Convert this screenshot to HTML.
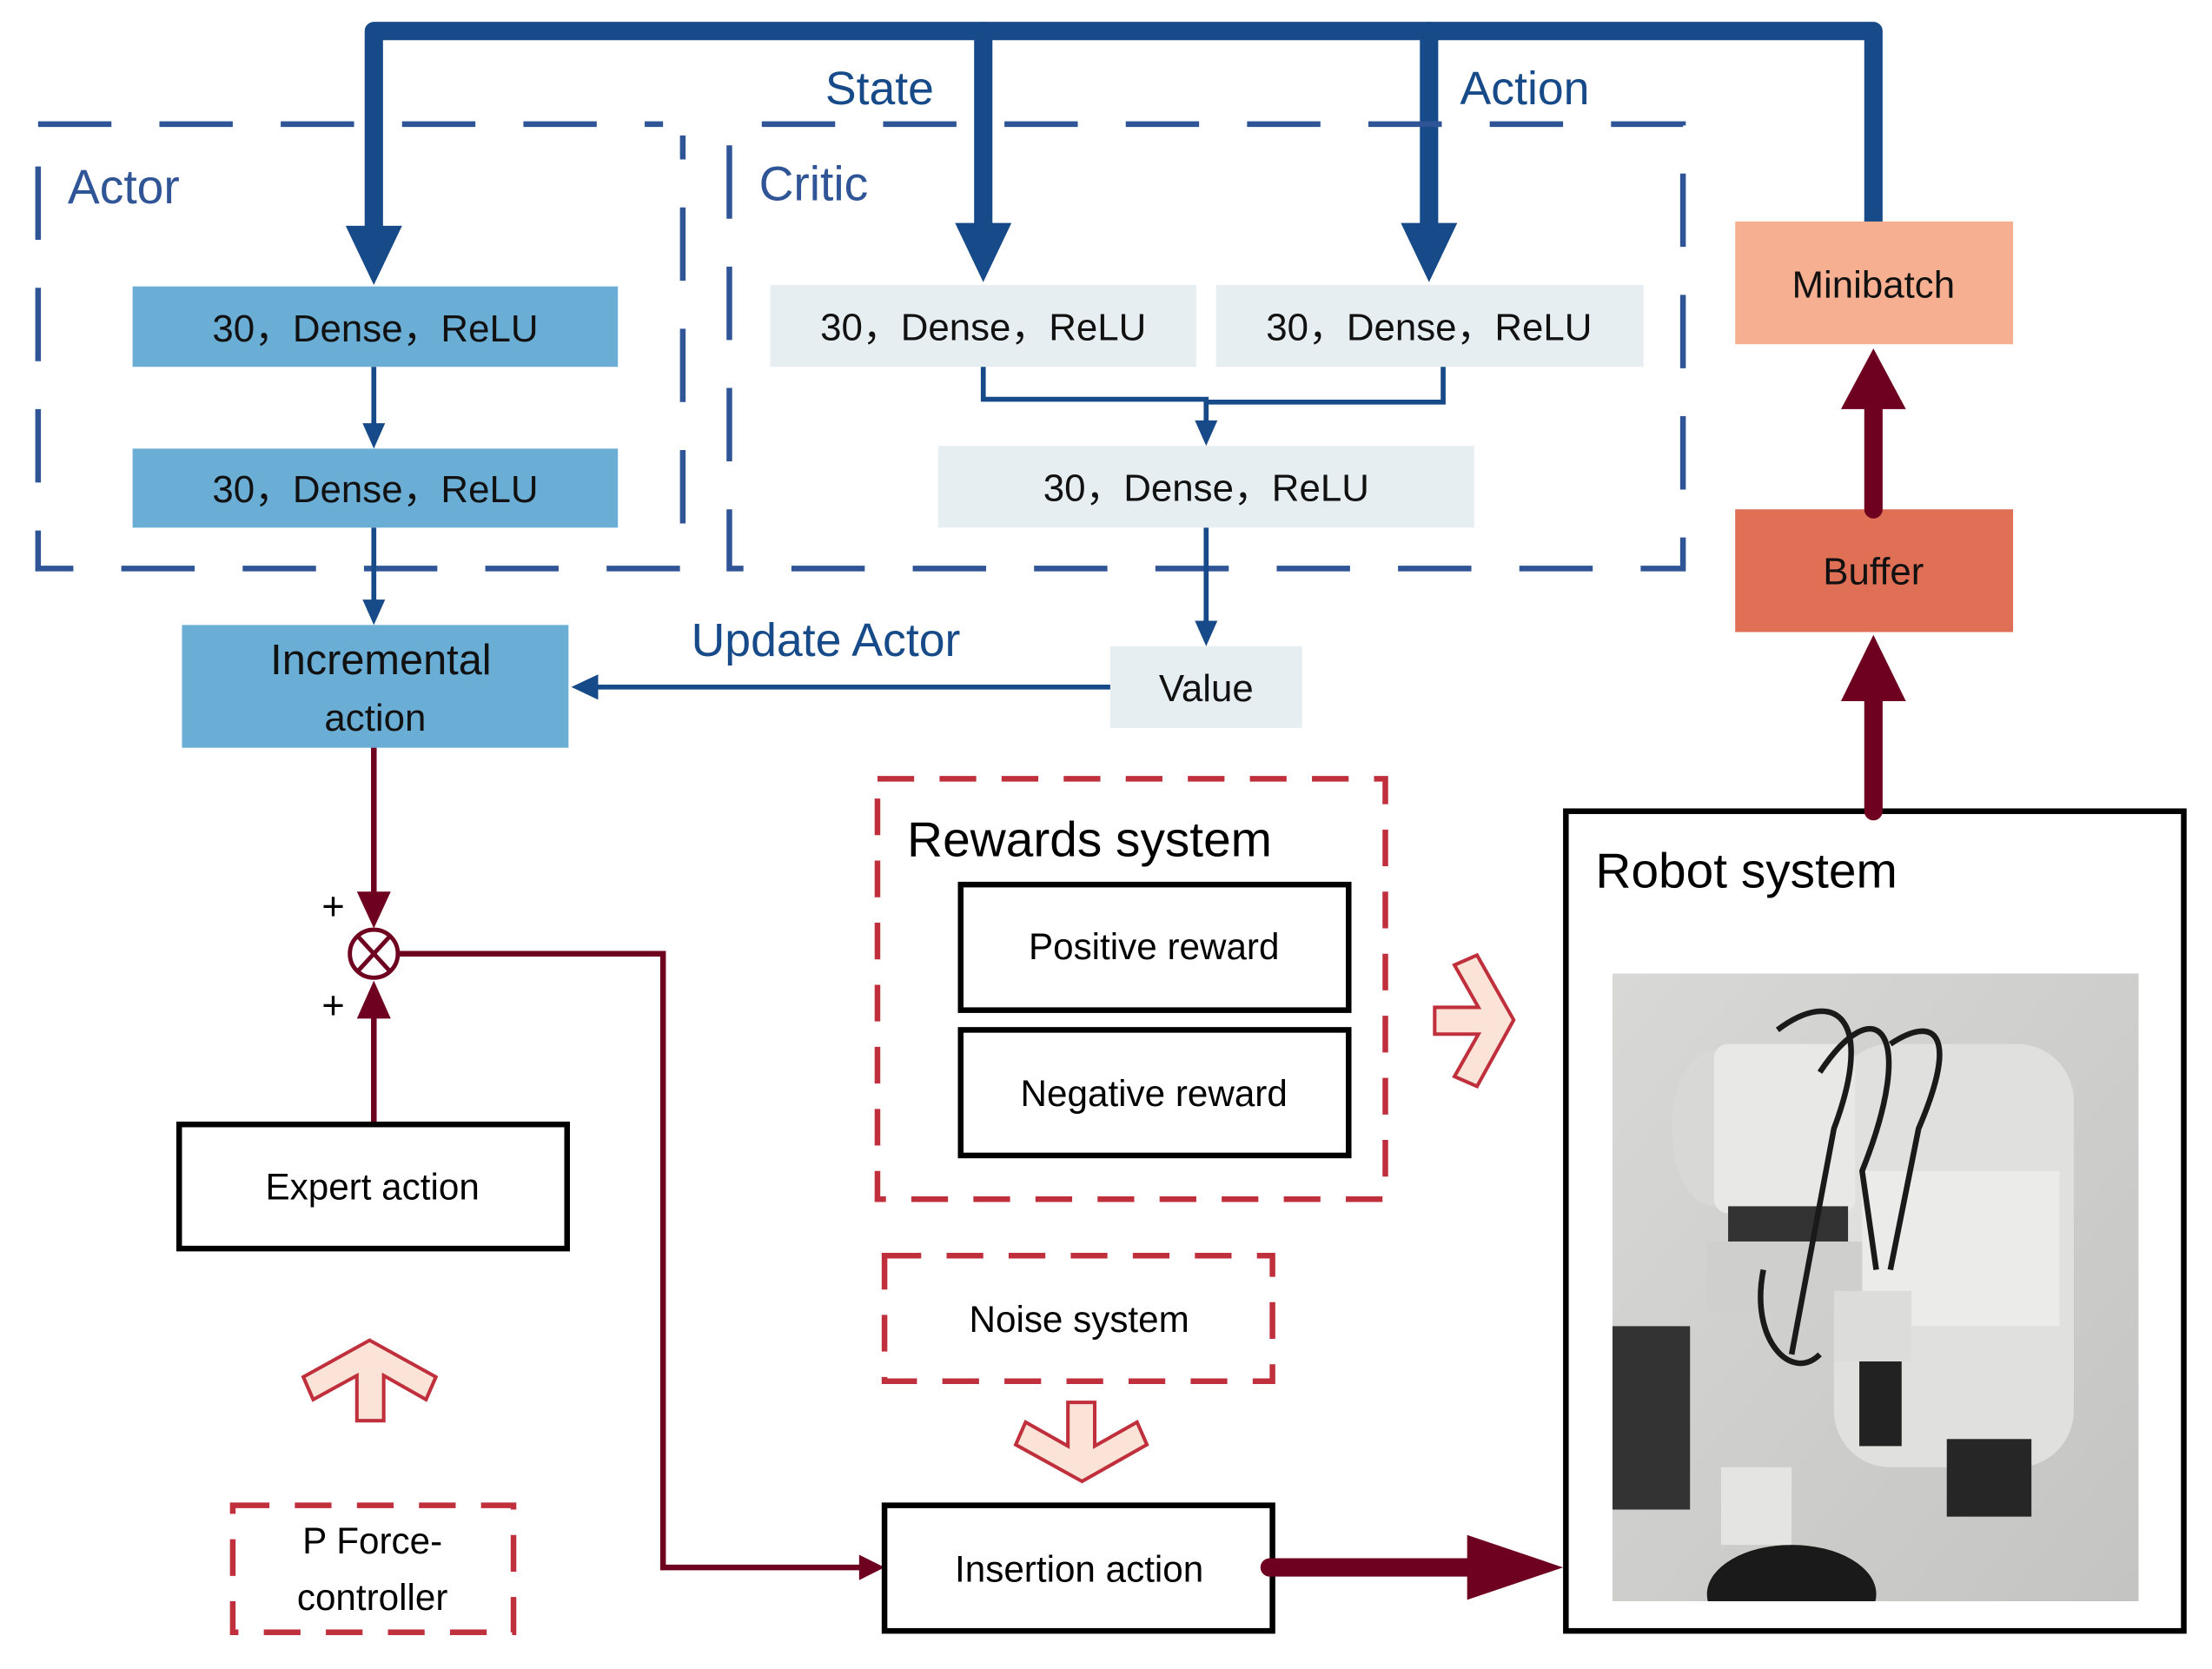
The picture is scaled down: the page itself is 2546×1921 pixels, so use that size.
<!DOCTYPE html>
<html><head><meta charset="utf-8"><style>
html,body{margin:0;padding:0;background:#fff;}
svg{display:block;}
text{font-family:"Liberation Sans",sans-serif;}
</style></head><body>
<svg width="2546" height="1921" viewBox="0 0 1568 1183" preserveAspectRatio="none" xmlns="http://www.w3.org/2000/svg">
<defs>
<linearGradient id="bg" x1="0" y1="0" x2="1" y2="1"><stop offset="0" stop-color="#d8d8d6"/><stop offset="1" stop-color="#c4c4c2"/></linearGradient>
<clipPath id="ph"><rect x="1143" y="690" width="373" height="445"/></clipPath>
</defs>
<g stroke="#174a88" stroke-width="13" fill="none" stroke-linecap="round" stroke-linejoin="round">
<path d="M265 165 V22 H1328 V157"/>
<path d="M697 22 V165"/><path d="M1013 22 V165"/>
</g>
<g fill="#174a88">
<polygon points="245,160 285,160 265,202"/>
<polygon points="677,158 717,158 697,200"/>
<polygon points="993,158 1033,158 1013,200"/>
</g>
<g stroke="#2f5597" stroke-width="4" fill="none" stroke-dasharray="52,34">
<rect x="27" y="88" width="457" height="315"/>
<path d="M540 88 H1193 V403 H517 V88"/>
</g>
<rect x="470" y="80" width="40" height="16" fill="#fff"/>
<g fill="#2f5597" font-size="34">
<text x="48" y="144">Actor</text><text x="538" y="142">Critic</text>
</g>
<g fill="#174a88" font-size="33">
<text x="585" y="74">State</text><text x="1035" y="74">Action</text>
<text x="490" y="465">Update Actor</text>
</g>
<rect x="94" y="203" width="344" height="57" fill="#6aadd5"/>
<rect x="94" y="318" width="344" height="56" fill="#6aadd5"/>
<rect x="129" y="443" width="274" height="87" fill="#6aadd5"/>
<g fill="#e7eef2"><rect x="546" y="202" width="302" height="58"/><rect x="862" y="202" width="303" height="58"/><rect x="665" y="316" width="380" height="58"/><rect x="787" y="458" width="136" height="58"/></g>
<g font-size="27" fill="#111" text-anchor="middle">
<text x="266" y="242">30，Dense，ReLU</text>
<text x="266" y="356">30，Dense，ReLU</text>
<text x="697" y="241">30，Dense，ReLU</text>
<text x="1013" y="241">30，Dense，ReLU</text>
<text x="855" y="355">30，Dense，ReLU</text>
<text x="855" y="497">Value</text>
<text x="270" y="478" font-family="Liberation Serif" font-size="30">Incremental</text>
<text x="266" y="518">action</text>
</g>
<g stroke="#174a88" stroke-width="3.5" fill="none">
<path d="M265 260 V302"/><path d="M265 374 V428"/>
<path d="M697 260 V283 H855 V300"/><path d="M1023 260 V285 H855"/>
<path d="M855 374 V444"/><path d="M787 487 H420"/>
</g>
<g fill="#174a88">
<polygon points="257,300 273,300 265,318"/>
<polygon points="257,425 273,425 265,443"/>
<polygon points="847,298 863,298 855,316"/>
<polygon points="847,440 863,440 855,458"/>
<polygon points="424,478 424,496 405,487"/>
</g>
<g stroke="#6e0020" stroke-width="4" fill="none">
<path d="M265 530 V640"/><path d="M265 797 V715"/>
<path d="M283 676 H470 V1111 H612"/>
<circle cx="265" cy="676" r="17" stroke-width="3"/>
<path d="M254 664 L276 688 M276 664 L254 688" stroke-width="3"/>
</g>
<g fill="#6e0020">
<polygon points="253,632 277,632 265,658"/>
<polygon points="253,722 277,722 265,695"/>
<polygon points="609,1102 609,1120 627,1111"/>
</g>
<g font-size="28" fill="#000"><text x="228" y="652">+</text><text x="228" y="722">+</text></g>
<g stroke="#000" stroke-width="4" fill="none">
<rect x="127" y="797" width="275" height="88"/>
<rect x="681" y="627" width="275" height="89"/>
<rect x="681" y="730" width="275" height="89"/>
<rect x="627" y="1067" width="275" height="89"/>
<rect x="1110" y="575" width="438" height="581"/>
</g>
<g stroke="#c0303c" stroke-width="4" fill="none" stroke-dasharray="26,18">
<rect x="622" y="552" width="360" height="298"/>
<rect x="627" y="890" width="275" height="89"/>
<rect x="165" y="1067" width="199" height="90"/>
</g>
<g font-size="26" fill="#000" text-anchor="middle">
<text x="264" y="850">Expert action</text>
<text x="818" y="680">Positive reward</text>
<text x="818" y="784">Negative reward</text>
<text x="765" y="944">Noise system</text>
<text x="765" y="1121">Insertion action</text>
<text x="264" y="1101">P Force-</text>
<text x="264" y="1141">controller</text>
</g>
<text x="643" y="607" font-size="35" fill="#000">Rewards system</text>
<text x="1131" y="629" font-size="35" fill="#000">Robot system</text>
<g fill="#fbe3d7" stroke="#c0303c" stroke-width="2.5">
<polygon points="262,950 309,976 302,992 272,975 272,1007 253,1007 253,975 222,992 215,976"/>
<polygon points="767,1050 720,1024 727,1008 757,1025 757,994 776,994 776,1025 806,1008 813,1024"/>
<polygon points="1073,723 1047,770 1031,763 1048,733 1017,733 1017,714 1048,714 1031,684 1047,677"/>
</g>
<rect x="1230" y="157" width="197" height="87" fill="#f6b091"/>
<rect x="1230" y="361" width="197" height="87" fill="#df6f55"/>
<g font-size="27" fill="#111" text-anchor="middle"><text x="1328" y="211">Minibatch</text><text x="1328" y="414">Buffer</text></g>
<g stroke="#6e0020" stroke-width="13" stroke-linecap="round" fill="none">
<path d="M1328 575 V490"/><path d="M1328 361 V285"/><path d="M900 1111 H1045"/>
</g>
<g fill="#6e0020">
<polygon points="1305,497 1351,497 1328,450"/>
<polygon points="1305,290 1351,290 1328,247"/>
<polygon points="1040,1088 1040,1134 1108,1111"/>
</g>
<g clip-path="url(#ph)">
<rect x="1143" y="690" width="373" height="445" fill="url(#bg)"/>
<rect x="1300" y="740" width="170" height="300" rx="40" fill="#e0e0de"/>
<rect x="1320" y="830" width="140" height="110" fill="#ebebe9"/>
<ellipse cx="1215" cy="800" rx="30" ry="55" fill="#d8d8d6"/>
<rect x="1215" y="740" width="100" height="120" rx="10" fill="#e8e8e6"/>
<rect x="1225" y="855" width="85" height="25" fill="#333"/>
<rect x="1210" y="880" width="110" height="50" fill="#cfcfcd"/>
<rect x="1300" y="915" width="55" height="50" fill="#dcdcda"/>
<rect x="1318" y="965" width="30" height="60" fill="#222"/>
<rect x="1143" y="940" width="55" height="130" fill="#333"/>
<rect x="1380" y="1020" width="60" height="55" fill="#262626"/>
<ellipse cx="1270" cy="1130" rx="60" ry="35" fill="#1a1a1a"/>
<rect x="1220" y="1040" width="50" height="55" fill="#e4e4e2"/>
<g stroke="#1a1a1a" stroke-width="4" fill="none">
<path d="M1260 730 C1300 700 1330 720 1300 800 L1270 960"/>
<path d="M1290 760 C1330 700 1360 730 1320 830 L1330 900"/>
<path d="M1340 740 C1370 720 1390 730 1360 800 L1340 900"/>
<path d="M1250 900 C1240 950 1270 980 1290 960"/>
</g>
</g>
</svg>
</body></html>
